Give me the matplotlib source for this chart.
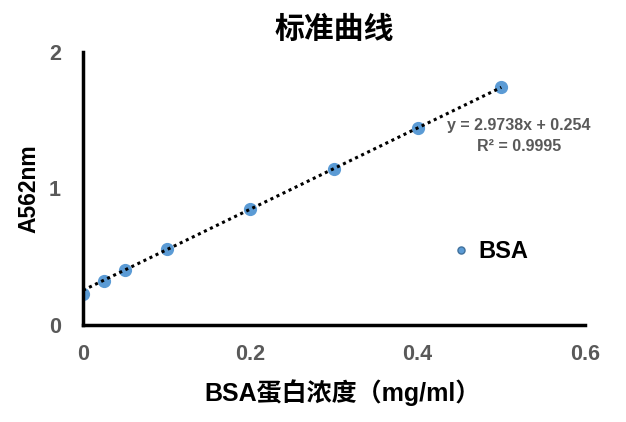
import matplotlib
matplotlib.use("Agg")
import matplotlib.pyplot as plt
import numpy as np

plt.rcParams['font.family'] = ['Liberation Sans', 'Noto Sans CJK SC', 'DejaVu Sans']

conc = [0, 0.025, 0.05, 0.1, 0.2, 0.3, 0.4, 0.5]
absorb = [0.23, 0.32, 0.40, 0.56, 0.85, 1.14, 1.44, 1.74]
slope, intercept = 2.9738, 0.254
xticks = [0, 0.2, 0.4, 0.6]
yticks = [0, 1, 2]

fig = plt.figure(figsize=(6.26, 4.22), dpi=100)
ax = fig.add_axes([0.1326, 0.2299, 0.8019, 0.6469])

fx = np.array([0, 0.5])
ax.plot(fx, slope * fx + intercept, color='black', linestyle=(0, (1, 1.2)), lw=2.2, zorder=3)
ax.plot(conc, absorb, 'o', color='#5B9BD5', ms=8.5, mec='#5B9BD5', zorder=2, label='BSA')

ax.set_xlim(0, 0.6)
ax.set_ylim(0, 2)
ax.set_xticks(xticks)
ax.set_xticklabels(['0', '0.2', '0.4', '0.6'])
ax.set_yticks(yticks)
ax.set_yticklabels(['0', '1', '2'])
ax.tick_params(axis='x', length=0, labelsize=15.5, labelcolor='#595959', pad=14)
ax.tick_params(axis='y', length=0, labelsize=15.5, labelcolor='#595959', pad=16)
for lbl in ax.get_xticklabels() + ax.get_yticklabels():
    lbl.set_fontweight('bold')

for s in ['top', 'right']:
    ax.spines[s].set_visible(False)
for s in ['left', 'bottom']:
    ax.spines[s].set_linewidth(2.5)
    ax.spines[s].set_color('black')

ax.set_xlabel('BSA蛋白浓度（mg/ml）', fontsize=18, fontweight='bold')
ax.xaxis.set_label_coords(0.516, -0.249)
ax.xaxis.label.set_va('center')
ax.set_ylabel('A562nm', fontsize=16.5, fontweight='bold', labelpad=6)
ax.set_title('标准曲线', fontsize=21.5, fontweight='bold', pad=10)

ax.text(0.607, 1.515, 'y = 2.9738x + 0.254\nR² = 0.9995', ha='right', va='top',
        fontsize=11.5, fontweight='bold', color='#595959', multialignment='center',
        linespacing=1.45)

leg = ax.legend(loc='center left', bbox_to_anchor=(0.739, 0.27), frameon=False,
                prop={'size': 17, 'weight': 'bold'}, handletextpad=0.45,
                borderpad=0, borderaxespad=0,
                markerscale=0.6, handlelength=0.6)
for h in leg.legend_handles:
    h.set_markeredgecolor('#41719C')

fig.savefig('out.png', dpi=100)
